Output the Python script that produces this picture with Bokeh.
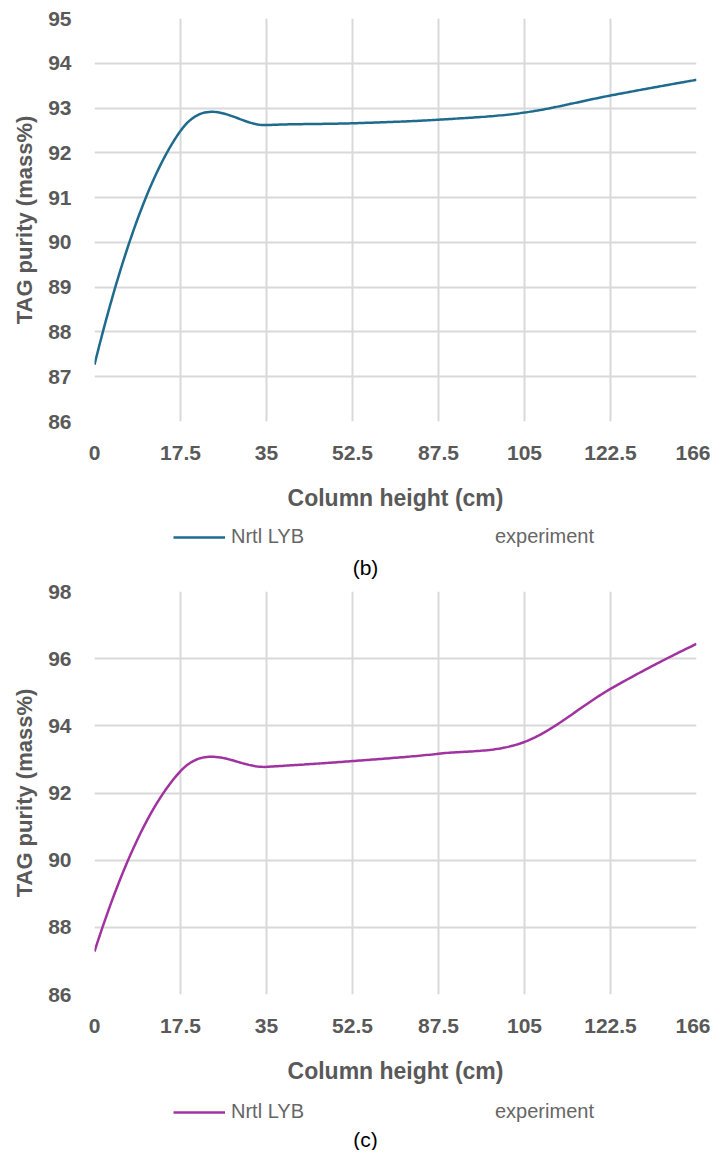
import numpy as np
from bokeh.plotting import figure
from bokeh.layouts import column
from bokeh.models import Range1d, FixedTicker, Legend, LegendItem, Label
from bokeh.embed import file_html
from bokeh.resources import INLINE

# ---- data ----
categories = ["0", "17.5", "35", "52.5", "87.5", "105", "122.5", "166"]
purity_b = [87.27, 92.49, 92.62, 92.66, 92.74, 92.90, 93.28, 93.63]
purity_c = [87.28, 92.65, 92.78, 92.95, 93.17, 93.52, 95.10, 96.44]
yticks_b = [86, 87, 88, 89, 90, 91, 92, 93, 94, 95]
yticks_c = [86, 88, 90, 92, 94, 96, 98]
experiment_x = []
experiment_y = []

FONT = "Liberation Sans"
GRID = "#d9d9d9"
TXT = "#595959"
W = 710


def excel_smooth(xs, ys, n=40):
    P = np.column_stack([xs, ys]).astype(float)
    N = len(P)
    T = np.zeros_like(P)
    for i in range(1, N - 1):
        T[i] = (P[i + 1] - P[i - 1]) / 6.0
    t = np.linspace(0, 1, n)[:, None]
    pts = []
    for i in range(N - 1):
        p0, p3 = P[i], P[i + 1]
        if i == 0:
            c2 = p3 - T[i + 1]
            q = p3 - 1.5 * T[i + 1]
            c1 = p0 + 2.0 / 3.0 * (q - p0)
        elif i == N - 2:
            c1 = p0 + T[i]
            q = p0 + 1.5 * T[i]
            c2 = p3 + 2.0 / 3.0 * (q - p3)
        else:
            c1 = p0 + T[i]
            c2 = p3 - T[i + 1]
        seg = (1 - t) ** 3 * p0 + 3 * (1 - t) ** 2 * t * c1 + 3 * (1 - t) * t ** 2 * c2 + t ** 3 * p3
        pts.append(seg if i == 0 else seg[1:])
    out = np.vstack(pts)
    return out[:, 0], out[:, 1]


def make_panel(values, yticks, color, top_border):
    xs = list(range(len(categories)))
    p = figure(width=W, height=top_border + 403 + 100,
               min_border_left=94, min_border_right=14,
               min_border_top=top_border, min_border_bottom=100,
               x_range=Range1d(0, len(categories) - 1),
               y_range=Range1d(yticks[0], yticks[-1]),
               output_backend="svg", toolbar_location=None,
               background_fill_color="white", border_fill_color="white")
    p.outline_line_color = None

    sx, sy = excel_smooth(xs, values)
    p.line(sx, sy, line_color=color, line_width=2.5)

    p.xaxis.ticker = FixedTicker(ticks=xs)
    p.xaxis.major_label_overrides = {i: c for i, c in enumerate(categories)}
    p.yaxis.ticker = FixedTicker(ticks=yticks)
    for ax in (p.xaxis[0], p.yaxis[0]):
        ax.axis_line_color = None
        ax.major_tick_line_color = None
        ax.minor_tick_line_color = None
        ax.major_tick_out = 0
        ax.major_tick_in = 0
        ax.major_label_text_font = FONT
        ax.major_label_text_font_style = "bold"
        ax.major_label_text_font_size = "21px"
        ax.major_label_text_color = TXT
        ax.axis_label_text_font = FONT
        ax.axis_label_text_font_style = "bold"
        ax.axis_label_text_color = TXT
    p.xaxis.axis_label = "Column height (cm)"
    p.xaxis.axis_label_text_font_size = "23px"
    p.xaxis.major_label_standoff = 24
    p.xaxis.axis_label_standoff = 22
    p.yaxis.axis_label = "TAG purity (mass%)"
    p.yaxis.axis_label_text_font_size = "22px"
    p.yaxis.major_label_standoff = 23
    p.yaxis.axis_label_standoff = 8

    for g in (p.xgrid[0], p.ygrid[0]):
        g.grid_line_color = GRID
        g.grid_line_width = 2
    return p, sx, sy


def make_footer(color, caption, height, legend_bottom, caption_y, sx, sy):
    # footer holds the legend and the caption; its frame is aligned with the chart's frame
    f = figure(width=W, height=height, min_border=0,
               min_border_left=94, min_border_right=14,
               x_axis_location=None, y_axis_location=None,
               x_range=Range1d(0, 1), y_range=Range1d(0, 1),
               output_backend="svg", toolbar_location=None,
               background_fill_color="white", border_fill_color="white")
    f.outline_line_color = None
    f.grid.visible = False
    # legend proxy renderers (series data lies outside this strip's range, so only the key shows)
    r_line = f.line(sx, sy, line_color=color, line_width=2.5)
    r_exp = f.scatter(experiment_x, experiment_y, marker="circle", size=8,
                      fill_alpha=0, line_alpha=0)
    legend = Legend(items=[LegendItem(label="Nrtl LYB", renderers=[r_line]),
                           LegendItem(label="experiment", renderers=[r_exp])],
                    orientation="horizontal", location=(79, legend_bottom),
                    glyph_width=52, glyph_height=20, label_standoff=6, spacing=126,
                    label_width=80,
                    padding=0, margin=0, border_line_color=None,
                    background_fill_alpha=0,
                    label_text_font=FONT, label_text_font_size="20px",
                    label_text_color="#666666")
    f.add_layout(legend, "center")
    f.add_layout(Label(x=271, y=caption_y, x_units="screen", y_units="screen",
                       text=caption, text_align="center", text_baseline="middle",
                       text_font=FONT, text_font_size="21px", text_color="black"))
    return f


pb, sxb, syb = make_panel(purity_b, yticks_b, "#1f6b8e", 18)
fb = make_footer("#1f6b8e", "(b)", 58, 31, 12, sxb, syb)
pc, sxc, syc = make_panel(purity_c, yticks_c, "#a0339f", 12)
fc = make_footer("#a0339f", "(c)", 56, 27, 11, sxc, syc)

layout = column(pb, fb, pc, fc, spacing=0)
open("out.html", "w").write(file_html(layout, INLINE))
